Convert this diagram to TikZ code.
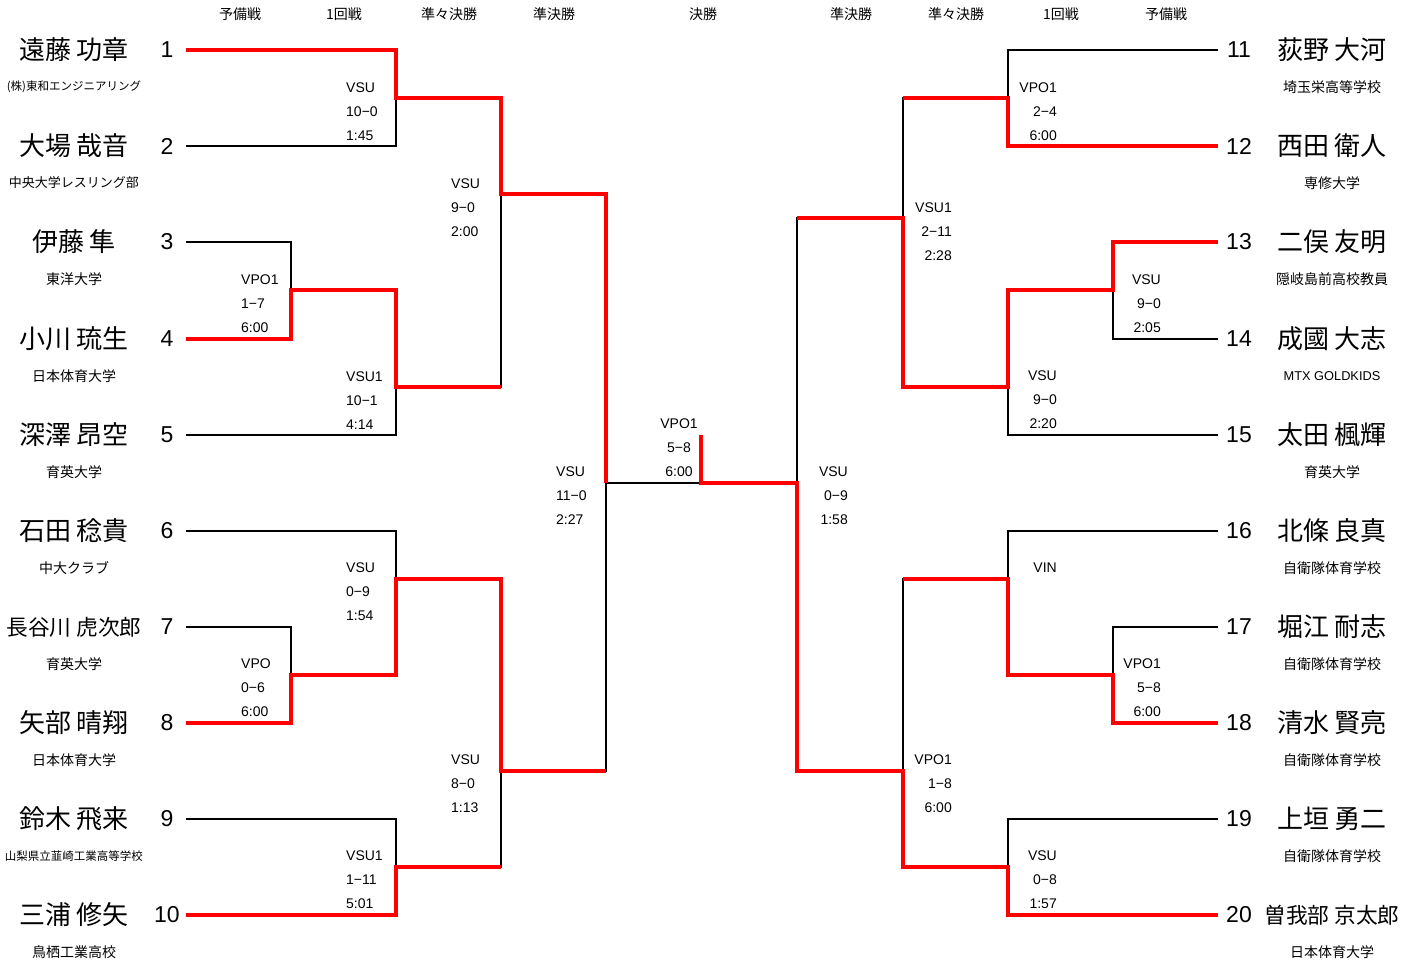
\documentclass[tikz,border=0pt]{standalone}
\usepackage{fontspec}
\setmainfont{Liberation Sans}
\newfontfamily\jp{Noto Sans CJK JP}
\definecolor{wred}{RGB}{255,0,0}
\newcommand\LabL[6]{%
  \node[lb,anchor=west] (#3a) at (#1,#2-10) {#4};
  \node[lb,anchor=west] (#3b) at (#1,#2+14) {#5};
  \node[lb,anchor=west] (#3c) at (#1,#2+38) {#6};}
\newcommand\LabR[6]{%
  \node[lb,anchor=east] (#3a) at (#1,#2-10) {#4};
  \node[lb,anchor=east] (#3b) at (#1,#2+14) {#5};
  \node[lb,anchor=east] (#3c) at (#1,#2+38) {#6};}
\begin{document}
\begin{tikzpicture}[x=1pt,y=-1pt,
  bk/.style={line width=1.8pt,line cap=square},
  rd/.style={line width=3.8pt,draw=wred,line join=miter},
  nm/.style={font=\jp\fontsize{26}{26}\selectfont,inner sep=0},
  nms/.style={font=\jp\fontsize{21.7}{22}\selectfont,inner sep=0},
  af/.style={font=\jp\fontsize{14}{14}\selectfont,inner sep=0},
  num/.style={font=\fontsize{23}{23}\selectfont,inner sep=0},
  lb/.style={font=\fontsize{14}{14}\selectfont,inner sep=0},
  hd/.style={font=\jp\fontsize{14}{14}\selectfont,inner sep=0}]
\useasboundingbox (0,0) rectangle (1416,963);
\fill[white] (0,0) rectangle (1416,963);

% headers
\node[hd] (h1) at (240,14) {予備戦};
\node[hd] (h2) at (344,14) {1回戦};
\node[hd] (h3) at (449,14) {準々決勝};
\node[hd] (h4) at (554,14) {準決勝};
\node[hd] (h5) at (703,14) {決勝};
\node[hd] (h6) at (851,14) {準決勝};
\node[hd] (h7) at (956,14) {準々決勝};
\node[hd] (h8) at (1061,14) {1回戦};
\node[hd] (h9) at (1166,14) {予備戦};

% line starts
\coordinate (s1) at (186,50);   \coordinate (s2) at (186,146);
\coordinate (s3) at (186,242);  \coordinate (s4) at (186,339);
\coordinate (s5) at (186,435);  \coordinate (s6) at (186,531);
\coordinate (s7) at (186,627);  \coordinate (s8) at (186,723);
\coordinate (s9) at (186,819);  \coordinate (s10) at (186,915);
\coordinate (s11) at (1218,50);  \coordinate (s12) at (1218,146);
\coordinate (s13) at (1218,242); \coordinate (s14) at (1218,339);
\coordinate (s15) at (1218,435); \coordinate (s16) at (1218,531);
\coordinate (s17) at (1218,627); \coordinate (s18) at (1218,723);
\coordinate (s19) at (1218,819); \coordinate (s20) at (1218,915);

% black bracket (left)
\draw[bk] (s1) -| (396,146) -- (s2);
\draw[bk] (s3) -| (291,339) -- (s4);
\draw[bk] (291,290) -| (396,435) -- (s5);
\draw[bk] (396,98) -| (501,387) -- (396,387);
\draw[bk] (s6) -| (396,675) -- (291,675);
\draw[bk] (s7) -| (291,723) -- (s8);
\draw[bk] (s9) -| (396,915) -- (s10);
\draw[bk] (396,579) -| (501,867) -- (396,867);
\draw[bk] (501,194) -| (606,771) -- (501,771);
\draw[bk] (606,483) -- (701,483);
% black bracket (right)
\draw[bk] (s11) -| (1008,146) -- (s12);
\draw[bk] (s13) -| (1113,339) -- (s14);
\draw[bk] (1113,290) -| (1008,435) -- (s15);
\draw[bk] (1008,98) -| (903,387) -- (1008,387);
\draw[bk] (s16) -| (1008,675) -- (1113,675);
\draw[bk] (s17) -| (1113,723) -- (s18);
\draw[bk] (s19) -| (1008,915) -- (s20);
\draw[bk] (1008,579) -| (903,867) -- (1008,867);
\draw[bk] (903,218) -| (797,771) -- (903,771);
\draw[bk] (797,483) -- (701,483);

% red winners
\draw[rd] (s1) -- (396,50) -- (396,98) -- (501,98) -- (501,194) -- (606,194) -- (606,483);
\draw[rd] (s4) -- (291,339) -- (291,290) -- (396,290) -- (396,387) -- (501,387);
\draw[rd] (s8) -- (291,723) -- (291,675) -- (396,675) -- (396,579) -- (501,579) -- (501,771) -- (606,771);
\draw[rd] (s10) -- (396,915) -- (396,867) -- (501,867);
\draw[rd] (s12) -- (1008,146) -- (1008,98) -- (903,98);
\draw[rd] (s13) -- (1113,242) -- (1113,290) -- (1008,290) -- (1008,387) -- (903,387) -- (903,218) -- (797,218);
\draw[rd] (s18) -- (1113,723) -- (1113,675) -- (1008,675) -- (1008,579) -- (903,579);
\draw[rd] (s20) -- (1008,915) -- (1008,867) -- (903,867) -- (903,771) -- (797,771) -- (797,483) -- (701,483) -- (701,435);

% left players
\node[nm] (n1) at (74,50) {遠藤 功章};
\node[nm] (n2) at (74,146) {大場 哉音};
\node[nm] (n3) at (74,242) {伊藤 隼};
\node[nm] (n4) at (74,339) {小川 琉生};
\node[nm] (n5) at (74,435) {深澤 昂空};
\node[nm] (n6) at (74,531) {石田 稔貴};
\node[nms] (n7) at (74,627) {長谷川 虎次郎};
\node[nm] (n8) at (74,723) {矢部 晴翔};
\node[nm] (n9) at (74,819) {鈴木 飛来};
\node[nm] (n10) at (74,915) {三浦 修矢};
\node[af,font=\jp\fontsize{11.5}{12}\selectfont] (a1) at (74,87) {(株)東和エンジニアリング};
\node[af,font=\jp\fontsize{13}{13}\selectfont] (a2) at (74,183) {中央大学レスリング部};
\node[af] (a3) at (74,279) {東洋大学};
\node[af] (a4) at (74,376) {日本体育大学};
\node[af] (a5) at (74,472) {育英大学};
\node[af] (a6) at (74,568) {中大クラブ};
\node[af] (a7) at (74,664) {育英大学};
\node[af] (a8) at (74,760) {日本体育大学};
\node[af,font=\jp\fontsize{11.5}{12}\selectfont] (a9) at (74,856) {山梨県立韮崎工業高等学校};
\node[af] (a10) at (74,952) {鳥栖工業高校};
\foreach \i/\y in {1/50,2/146,3/242,4/339,5/435,6/531,7/627,8/723,9/819,10/915}
  \node[num] (k\i) at (167,\y) {\i};

% right players
\node[nm] (n11) at (1332,50) {荻野 大河};
\node[nm] (n12) at (1332,146) {西田 衛人};
\node[nm] (n13) at (1332,242) {二俣 友明};
\node[nm] (n14) at (1332,339) {成國 大志};
\node[nm] (n15) at (1332,435) {太田 楓輝};
\node[nm] (n16) at (1332,531) {北條 良真};
\node[nm] (n17) at (1332,627) {堀江 耐志};
\node[nm] (n18) at (1332,723) {清水 賢亮};
\node[nm] (n19) at (1332,819) {上垣 勇二};
\node[nms] (n20) at (1332,915) {曽我部 京太郎};
\node[af] (a11) at (1332,87) {埼玉栄高等学校};
\node[af] (a12) at (1332,183) {専修大学};
\node[af] (a13) at (1332,279) {隠岐島前高校教員};
\node[af,font=\fontsize{12.8}{13}\selectfont] (a14) at (1332,376) {MTX GOLDKIDS};
\node[af] (a15) at (1332,472) {育英大学};
\node[af] (a16) at (1332,568) {自衛隊体育学校};
\node[af] (a17) at (1332,664) {自衛隊体育学校};
\node[af] (a18) at (1332,760) {自衛隊体育学校};
\node[af] (a19) at (1332,856) {自衛隊体育学校};
\node[af] (a20) at (1332,952) {日本体育大学};
\foreach \i/\y in {11/50,12/146,13/242,14/339,15/435,16/531,17/627,18/723,19/819,20/915}
  \node[num] (k\i) at (1239,\y) {\i};

% match labels left
\LabL{346}{98}{mA}{VSU}{10−0}{1:45}
\LabL{241}{290}{mB}{VPO1}{1−7}{6:00}
\LabL{346}{387}{mC}{VSU1}{10−1}{4:14}
\LabL{451}{194}{mD}{VSU}{9−0}{2:00}
\LabL{556}{482}{mE}{VSU}{11−0}{2:27}
\LabL{241}{674}{mF}{VPO}{0−6}{6:00}
\LabL{346}{578}{mG}{VSU}{0−9}{1:54}
\LabL{346}{866}{mH}{VSU1}{1−11}{5:01}
\LabL{451}{770}{mI}{VSU}{8−0}{1:13}
% final
\node[lb] (fa) at (679,424) {VPO1};
\node[lb] (fb) at (679,448) {5−8};
\node[lb] (fc) at (679,472) {6:00};
% match labels right
\LabR{1057}{98}{mJ}{VPO1}{2−4}{6:00}
\LabR{1161}{290}{mK}{VSU}{9−0}{2:05}
\LabR{1057}{386}{mL}{VSU}{9−0}{2:20}
\LabR{952}{218}{mM}{VSU1}{2−11}{2:28}
\LabR{848}{482}{mN}{VSU}{0−9}{1:58}
\node[lb,anchor=east] (mO) at (1057,568) {VIN};
\LabR{1161}{674}{mP}{VPO1}{5−8}{6:00}
\LabR{1057}{866}{mQ}{VSU}{0−8}{1:57}
\LabR{952}{770}{mR}{VPO1}{1−8}{6:00}
\end{tikzpicture}
\end{document}
